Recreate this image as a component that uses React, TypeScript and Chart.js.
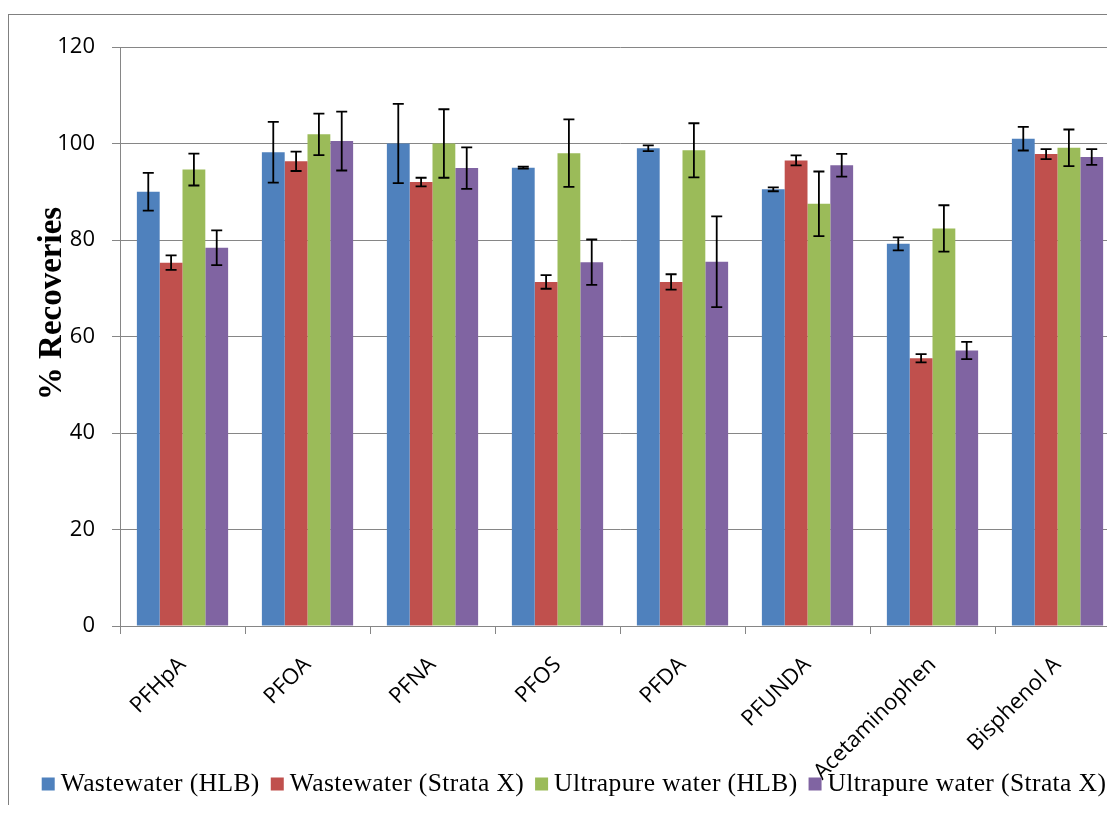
import React, { useEffect, useRef } from 'react';
import { Chart, registerables } from 'chart.js';

Chart.register(...registerables);

const categories = ['PFHpA', 'PFOA', 'PFNA', 'PFOS', 'PFDA', 'PFUNDA', 'Acetaminophen', 'Bisphenol A'];

const seriesLabels = ['Wastewater (HLB)', 'Wastewater (Strata X)', 'Ultrapure water (HLB)', 'Ultrapure water (Strata X)'];
const seriesColors = ['#4F81BD', '#C0504D', '#9BBB59', '#8064A2'];

const wastewaterHLB = [90.0, 98.2, 100.0, 95.0, 99.0, 90.5, 79.2, 101.0];
const wastewaterHLBErr = [3.9, 6.3, 8.2, 0.2, 0.6, 0.4, 1.35, 2.45];
const wastewaterStrataX = [75.3, 96.3, 92.0, 71.3, 71.3, 96.5, 55.5, 97.8];
const wastewaterStrataXErr = [1.5, 2.0, 0.9, 1.4, 1.6, 1.05, 0.85, 1.05];
const ultrapureHLB = [94.6, 101.9, 100.0, 98.0, 98.6, 87.5, 82.4, 99.1];
const ultrapureHLBErr = [3.3, 4.3, 7.1, 7.0, 5.6, 6.7, 4.8, 3.8];
const ultrapureStrataX = [78.4, 100.5, 94.9, 75.4, 75.5, 95.5, 57.1, 97.2];
const ultrapureStrataXErr = [3.6, 6.1, 4.3, 4.7, 9.4, 2.35, 1.8, 1.65];

const yMin = 0;
const yMax = 120;
const yStep = 20;
const yTitle = '% Recoveries';

const seriesValues = [wastewaterHLB, wastewaterStrataX, ultrapureHLB, ultrapureStrataX];
const seriesErrors = [wastewaterHLBErr, wastewaterStrataXErr, ultrapureHLBErr, ultrapureStrataXErr];

const errorBarPlugin = {
  id: 'errorBars',
  afterDatasetsDraw(chart: any) {
    const ctx = chart.ctx;
    const yScale = chart.scales.y;
    ctx.save();
    ctx.strokeStyle = '#000000';
    ctx.lineWidth = 1.8;
    chart.data.datasets.forEach((ds: any, i: number) => {
      const meta = chart.getDatasetMeta(i);
      const errs = ds.errors as number[];
      meta.data.forEach((bar: any, j: number) => {
        const v = ds.data[j];
        const e = errs[j];
        const x = bar.x;
        const top = yScale.getPixelForValue(v + e);
        const bot = yScale.getPixelForValue(v - e);
        const cap = 5.5;
        ctx.beginPath();
        ctx.moveTo(x, top);
        ctx.lineTo(x, bot);
        ctx.moveTo(x - cap, top);
        ctx.lineTo(x + cap, top);
        ctx.moveTo(x - cap, bot);
        ctx.lineTo(x + cap, bot);
        ctx.stroke();
      });
    });
    ctx.restore();
  },
};

const yTitlePlugin = {
  id: 'yTitle',
  afterDraw(chart: any) {
    const ctx = chart.ctx;
    const area = chart.chartArea;
    ctx.save();
    ctx.translate(area.left - 59.3, area.top + 256.5);
    ctx.rotate(-Math.PI / 2);
    ctx.font = 'bold 33px "Liberation Serif", "Times New Roman", serif';
    ctx.fillStyle = '#000000';
    ctx.textAlign = 'center';
    ctx.textBaseline = 'alphabetic';
    ctx.fillText(yTitle, 0, 0);
    ctx.restore();
  },
};

// Legend drawn below the axis labels (the long rotated label overlaps it, as in the original).
const bottomLegendPlugin = {
  id: 'bottomLegend',
  afterDraw(chart: any) {
    const ctx = chart.ctx;
    const box = 13;
    const gapText = 6;
    const gapItem = 11;
    ctx.save();
    ctx.font = '25.5px "Liberation Serif", "Times New Roman", serif';
    try {
      (ctx as any).letterSpacing = '0.4px';
    } catch (e) {
      /* ignore */
    }
    ctx.textAlign = 'left';
    ctx.textBaseline = 'alphabetic';
    const items = chart.data.datasets.map((ds: any) => ({
      text: ds.label as string,
      color: ds.backgroundColor as string,
      w: ctx.measureText(ds.label).width,
    }));
    const total =
      items.reduce((s: number, it: any) => s + box + gapText + it.w, 0) + gapItem * (items.length - 1);
    let x = chart.width / 2 + 3 - total / 2;
    const baseline = chart.height - 14;
    const boxTop = chart.height - 27.5;
    items.forEach((it: any) => {
      ctx.fillStyle = it.color;
      ctx.fillRect(x, boxTop, box, box);
      x += box + gapText;
      ctx.fillStyle = '#000000';
      ctx.fillText(it.text, x, baseline);
      x += it.w + gapItem;
    });
    ctx.restore();
  },
};

export default function App() {
  const canvasRef = useRef<HTMLCanvasElement | null>(null);

  useEffect(() => {
    const canvas = canvasRef.current;
    if (!canvas) return;
    const chart = new Chart(canvas, {
      type: 'bar',
      data: {
        labels: categories,
        datasets: seriesLabels.map((label, i) => ({
          label,
          data: seriesValues[i],
          errors: seriesErrors[i],
          backgroundColor: seriesColors[i],
          borderColor: seriesColors[i],
          borderWidth: 0,
          categoryPercentage: 0.73,
          barPercentage: 1.0,
        })) as any,
      },
      options: {
        responsive: false,
        maintainAspectRatio: false,
        animation: false,
        devicePixelRatio: 1,
        layout: { padding: { top: 32, left: 0, right: 13, bottom: 0 } },
        plugins: {
          tooltip: { enabled: false },
          title: { display: false },
          legend: { display: false },
        },
        scales: {
          x: {
            type: 'category',
            offset: true,
            grid: {
              offset: true,
              drawOnChartArea: false,
              drawTicks: true,
              tickLength: 8,
              color: '#868686',
              lineWidth: 1,
            },
            border: { display: true, color: '#868686', width: 1 },
            ticks: {
              minRotation: 45,
              maxRotation: 45,
              autoSkip: false,
              padding: 18,
              color: '#000000',
              font: { family: '"Open Sans", "Liberation Sans", sans-serif', size: 22 },
            },
            afterFit(scale: any) {
              scale.height = 179;
            },
          },
          y: {
            min: yMin,
            max: yMax,
            grid: {
              drawOnChartArea: true,
              drawTicks: true,
              tickLength: 8,
              color: '#868686',
              lineWidth: 1,
            },
            border: { display: true, color: '#868686', width: 1 },
            ticks: {
              stepSize: yStep,
              padding: 17,
              color: '#000000',
              font: { family: '"Open Sans", "Liberation Sans", sans-serif', size: 22 },
            },
            afterFit(scale: any) {
              scale.width = 111;
            },
          },
        },
      },
      plugins: [errorBarPlugin, yTitlePlugin, bottomLegendPlugin],
    });
    return () => chart.destroy();
  }, []);

  return (
    <div style={{ paddingTop: 6 }}>
      <div
        style={{
          width: 1106,
          height: 790,
          overflow: 'hidden',
          borderLeft: '1px solid #808080',
          borderTop: '1px solid #808080',
        }}
      >
        <canvas ref={canvasRef} width={1124} height={790} style={{ display: 'block', width: 1124, height: 790 }} />
      </div>
    </div>
  );
}
